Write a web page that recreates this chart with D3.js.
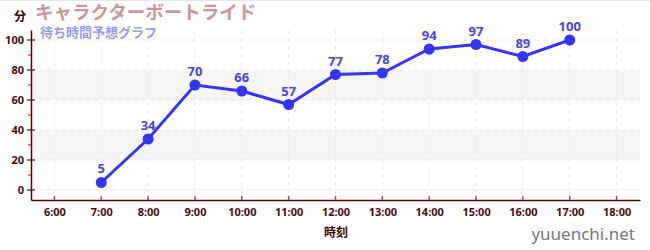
<!DOCTYPE html>
<html>
<head>
<meta charset="utf-8">
<script src="https://cdn.jsdelivr.net/npm/d3@7"></script>
<style>
body { margin: 0; background: #fff; }
text { font-family: "Noto Sans", "Noto Sans CJK JP", sans-serif; }
</style>
</head>
<body>
<svg id="chart" width="650" height="250"></svg>
<script>

var hours = [7, 8, 9, 10, 11, 12, 13, 14, 15, 16, 17];
var waits = [5, 34, 70, 66, 57, 77, 78, 94, 97, 89, 100];
var xTicks = [6, 7, 8, 9, 10, 11, 12, 13, 14, 15, 16, 17, 18];
var yTicks = [0, 20, 40, 60, 80, 100];
var bands = [[20, 40], [60, 80]];

var svg = d3.select("#chart");
// note: "top" is window.top, so use other names
var mLeft = 31, mRight = 640, mTop = 30, mBottom = 200;

var x = d3.scaleLinear().domain([5.5, 18.5]).range([mLeft, mRight]);
var y = d3.scaleLinear().domain([-6.67, 106.67]).range([mBottom, mTop]);

// top border
svg.append("line")
    .attr("x1", 0).attr("x2", 650).attr("y1", 0.5).attr("y2", 0.5)
    .style("stroke", "#e4e4f4");

// gray bands
svg.selectAll(".band").data(bands).enter()
    .append("rect")
    .attr("x", mLeft + 1)
    .attr("width", mRight - mLeft - 1)
    .attr("y", function(d){ return y(d[1]); })
    .attr("height", function(d){ return y(d[0]) - y(d[1]); })
    .style("fill", "#f6f6f6");

// grid lines
svg.selectAll(".hgrid").data(yTicks).enter()
    .append("line")
    .attr("x1", mLeft).attr("x2", mRight)
    .attr("y1", function(d){ return y(d); })
    .attr("y2", function(d){ return y(d); })
    .style("stroke", "#e6e6e6")
    .style("stroke-dasharray", "4,4");

svg.selectAll(".vgrid").data(xTicks).enter()
    .append("line")
    .attr("x1", function(d){ return x(d); })
    .attr("x2", function(d){ return x(d); })
    .attr("y1", mTop).attr("y2", mBottom)
    .style("stroke", "#ececec")
    .style("stroke-dasharray", "4,4");

// axes
var xAxis = d3.axisBottom(x)
    .tickValues(xTicks)
    .tickSize(0)
    .tickPadding(8)
    .tickFormat(function(d){ return d + ":00"; });

var gx = svg.append("g")
    .attr("transform", "translate(0," + mBottom + ")")
    .call(xAxis);
gx.select(".domain").style("stroke", "#5a0000").style("stroke-width", 1.5);
gx.selectAll("text")
    .style("fill", "#4a0a0a")
    .style("font-size", "11px")
    .style("font-weight", "bold");

// x ticks pointing up
svg.selectAll(".xtick").data(xTicks).enter()
    .append("line")
    .attr("x1", function(d){ return x(d); })
    .attr("x2", function(d){ return x(d); })
    .attr("y1", mBottom - 4).attr("y2", mBottom)
    .style("stroke", "#666")
    .style("stroke-width", 1.5);

var yAxis = d3.axisLeft(y)
    .tickValues(yTicks)
    .tickSize(0)
    .tickPadding(7);

var gy = svg.append("g")
    .attr("transform", "translate(" + mLeft + ",0)")
    .call(yAxis);
gy.select(".domain").style("stroke", "#5a0000").style("stroke-width", 1.5);
gy.selectAll("text")
    .style("fill", "#4a0a0a")
    .style("font-size", "11px")
    .style("font-weight", "bold");

// major ticks crossing axis
svg.selectAll(".ytick").data(yTicks).enter()
    .append("line")
    .attr("x1", mLeft - 4).attr("x2", mLeft + 4)
    .attr("y1", function(d){ return y(d); })
    .attr("y2", function(d){ return y(d); })
    .style("stroke", "#222")
    .style("stroke-width", 1.2);

// minor ticks
svg.selectAll(".ymin").data([10, 30, 50, 70, 90]).enter()
    .append("line")
    .attr("x1", mLeft - 3).attr("x2", mLeft)
    .attr("y1", function(d){ return y(d); })
    .attr("y2", function(d){ return y(d); })
    .style("stroke", "#d02020")
    .style("stroke-width", 1.2);

// line
var line = d3.line()
    .x(function(d, i){ return x(hours[i]); })
    .y(function(d){ return y(d); });

svg.append("path")
    .datum(waits)
    .attr("d", line)
    .style("fill", "none")
    .style("stroke", "#3535f5")
    .style("stroke-width", 3);

svg.selectAll(".pt").data(waits).enter()
    .append("circle")
    .attr("cx", function(d, i){ return x(hours[i]); })
    .attr("cy", function(d){ return y(d); })
    .attr("r", 5.5)
    .style("fill", "#3535f5");

svg.selectAll(".lbl").data(waits).enter()
    .append("text")
    .attr("x", function(d, i){ return x(hours[i]); })
    .attr("y", function(d){ return y(d) - 9; })
    .attr("text-anchor", "middle")
    .style("fill", "#4545e8")
    .style("font-size", "13px")
    .style("font-weight", "bold")
    .text(function(d){ return d; });

// titles
svg.append("text")
    .attr("x", 35).attr("y", 19)
    .style("fill", "#c89898")
    .style("font-size", "18.5px")
    .style("font-weight", "bold")
    .text("キャラクターボートライド");

svg.append("text")
    .attr("x", 40).attr("y", 37)
    .style("fill", "#9a9af5")
    .style("font-size", "13px")
    .style("font-weight", "bold")
    .text("待ち時間予想グラフ");

svg.append("text")
    .attr("x", 14).attr("y", 21)
    .style("fill", "#330000")
    .style("font-size", "12px")
    .style("font-weight", "bold")
    .text("分");

svg.append("text")
    .attr("x", 336).attr("y", 237)
    .attr("text-anchor", "middle")
    .style("fill", "#330000")
    .style("font-size", "12px")
    .style("font-weight", "bold")
    .text("時刻");

svg.append("text")
    .attr("x", 635).attr("y", 240)
    .attr("text-anchor", "end")
    .style("fill", "#777")
    .style("font-size", "17px")
    .text("yuuenchi.net");

</script>
</body>
</html>
